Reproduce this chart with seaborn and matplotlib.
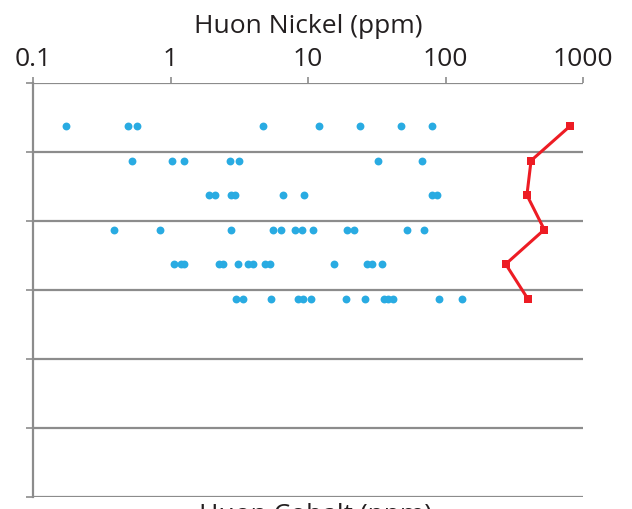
import numpy as np
import pandas as pd
import matplotlib
matplotlib.use("Agg")
import matplotlib.pyplot as plt
import seaborn as sns

# Sample depths (rows) and nickel values measured at each depth
depths = [6.25, 11.25, 16.25, 21.25, 26.25, 31.25]

nickel_row1 = [0.174, 0.489, 0.573, 4.73, 12.1, 23.9, 47.2, 79.4]
nickel_row2 = [0.525, 1.02, 1.25, 2.72, 3.17, 32.1, 67.1]
nickel_row3 = [1.89, 2.09, 2.74, 2.94, 6.55, 9.4, 79.4, 87.2]
nickel_row4 = [0.386, 0.843, 2.74, 5.61, 6.39, 8.0, 9.12, 10.8, 19.3, 21.5, 52.7, 69.8]
nickel_row5 = [1.06, 1.19, 1.25, 2.26, 2.42, 3.11, 3.68, 3.98, 4.87, 5.29, 15.5, 26.7, 29.2, 34.8]
nickel_row6 = [2.98, 3.38, 5.41, 8.5, 9.15, 10.5, 18.8, 25.8, 35.8, 38.2, 41.5, 89.4, 132]

# Reference profile drawn in red
profile_values = [804, 419, 391, 523, 274, 396]

tick_values = [0.1, 1, 10, 100, 1000]
tick_labels = ["0.1", "1", "10", "100", "1000"]
grid_depths = [0, 10, 20, 30, 40, 50, 60]

rows = [nickel_row1, nickel_row2, nickel_row3, nickel_row4, nickel_row5, nickel_row6]
points = pd.DataFrame(
    [(v, d) for d, vals in zip(depths, rows) for v in vals],
    columns=["nickel", "depth"],
)
profile = pd.DataFrame({"value": profile_values, "depth": depths})

sns.set_theme(style="white")
plt.rcParams["font.family"] = ["Open Sans", "DejaVu Sans"]

W, H = 632, 509
fig = plt.figure(figsize=(W / 100, H / 100), dpi=100)
ax = fig.add_axes([33 / W, 1 - 497 / H, 550 / W, 414 / H])

grid_color = "#8c8c8c"
text_color = "#231f20"
for g in grid_depths:
    ax.axhline(g, color=grid_color, lw=1.6, zorder=0)

sns.scatterplot(data=points, x="nickel", y="depth", ax=ax, color="#29abe2",
                s=32, linewidth=0, zorder=3)
sns.lineplot(data=profile, x="value", y="depth", ax=ax, sort=False,
             estimator=None, color="#ed1c24", lw=2.2, marker="s",
             markersize=6, markeredgewidth=0, zorder=4)

ax.set_xscale("log")
ax.set_xlim(0.1, 1000)
ax.set_ylim(60, 0)

ax.xaxis.tick_top()
ax.xaxis.set_label_position("top")
ax.set_xticks(tick_values)
ax.set_xticklabels(tick_labels)
ax.xaxis.set_minor_locator(matplotlib.ticker.NullLocator())
ax.set_yticks(grid_depths)
ax.set_yticklabels([])

ax.tick_params(axis="x", which="major", top=True, bottom=False, direction="out",
               length=4, width=1.2, color=grid_color, labelsize=19, pad=4,
               labelcolor=text_color)
ax.tick_params(axis="y", left=True, direction="out", length=5, width=1.2,
               color=grid_color)

ax.set_xlabel("Huon Nickel (ppm)", fontsize=19, color=text_color)
ax.xaxis.label.set_va("baseline")
ax.xaxis.set_label_coords(0.5, (83 - 33) / 414 + 1)
ax.set_ylabel("")

for side in ["top", "right", "bottom"]:
    ax.spines[side].set_visible(False)
ax.spines["left"].set_color(grid_color)
ax.spines["left"].set_linewidth(1.6)

fig.text(316 / W, 1 - 522 / H, "Huon Cobalt (ppm)", ha="center", va="baseline",
         fontsize=19, color=text_color)

fig.savefig("out.png", dpi=100)
